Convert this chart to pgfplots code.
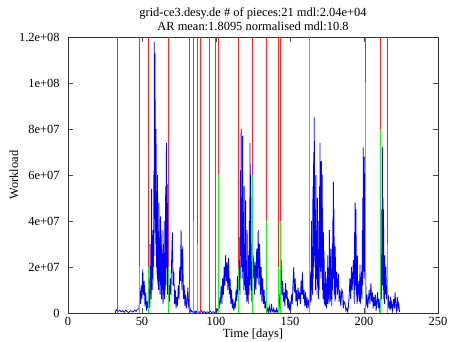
\documentclass[border=0pt]{standalone}
\usepackage{pgfplots}
\pgfplotsset{compat=1.18}
\usepackage{fontspec}
\setmainfont{Liberation Serif}
\definecolor{gpred}{RGB}{255,40,40}
\definecolor{gpgreen}{RGB}{40,235,40}
\definecolor{gpblue}{RGB}{0,0,255}
\pgfplotstableread{
x y
32 0
32.5 1.5
33 1
34 0.8
35 1.2
36 0.5
37 1
38 0.3
39 1.2
40 0.6
41 0.2
42 1
43 0.8
44 0.4
45 1.3
46 0.7
47 1.5
48 2
48.5 10
49 4
49.5 12
50 6
50.5 19
51 8
51.5 14
52 3
52.5 9
53 1
53.5 5
54 2
54.5 15
54.8 4
55 8
55.3 2
55.5 30
55.8 10
56 12
56.3 6
56.5 54
56.8 15
57 25
57.3 10
57.5 36
57.8 20
58 60
58.15 25
58.3 118
58.55 45
58.8 113
59 35
59.2 75
59.35 30
59.5 80
59.75 20
60 53
60.25 15
60.5 60
60.75 12
61 35
61.25 10
61.5 48
61.75 14
62 30
62.25 8
62.5 42
62.75 12
63 25
63.25 6
63.5 36
63.75 10
64 18
64.25 4
64.5 30
64.75 8
65 40
65.25 6
65.5 22
65.75 10
66 55
66.25 12
66.5 74
66.75 20
67 40
67.25 8
67.5 56
67.75 10
68 12
68.5 5
69 15
69.5 8
70 22
70.5 35
71 12
71.5 18
72 4
72.5 10
73 2
73.5 7
74 3
74.5 12
75 6
75.5 20
76 14
76.4 36
77 10
77.5 29
78 6
78.5 12
79 3
79.5 8
80 2
80.5 5
81 11
81.5 3
82 1
82.5 2
83 0.5
83.5 1
84 0.5
84.5 0.3
85 1
85.5 0.2
86 0.6
86.5 0.1
87 0.8
87.5 0.2
88 0.5
89 0.3
90 1
91 0.2
92 0.6
93 0.1
94 0.5
95 0.2
96 0.8
97 0.3
98 0.5
99 0.2
100 1
100.5 0.5
101 1.5
101.5 2
102 7
102.5 3
103 5
103.5 12
104 4
104.5 15
105 8
105.5 20
106 12
106.5 25
107 14
107.5 22
108 10
108.5 24
109 8
109.5 15
110 4
110.5 10
111 2
111.5 6
112 1
112.5 4
113 2
113.5 10
114 5
114.5 16
115 8
115.5 33
115.75 10
116 20
116.25 8
116.5 62
116.75 25
117 80
117.25 20
117.5 50
117.75 15
118 77
118.25 18
118.5 40
118.75 10
119 55
119.25 12
119.5 30
119.75 8
120 49
120.25 10
120.5 22
120.75 5
121 36
121.25 6
121.5 12
121.75 4
122 25
122.25 8
122.5 40
122.75 12
123 74
123.25 15
123.5 60
123.75 10
124 20
124.25 5
124.5 30
125 15
125.5 25
126 8
126.5 22
127 10
127.5 28
128 15
128.5 36
129 12
129.5 30
130 8
130.5 20
131 5
131.5 15
132 4
132.5 10
133 2
133.5 5
134 1
134.5 0.5
135 2
135.5 0.5
136 3
136.5 1
137 0.3
137.5 4
138 1
138.5 0.5
139 2
139.5 0.5
140 1
140.5 0.3
141 2
141.5 0.5
142 1
142.5 1
143 6
143.5 12
144 23
144.5 8
145 14
145.5 5
146 9
146.5 3
147 13
147.5 6
148 10
148.5 2
149 6
149.5 1
150 4
150.5 2
151 8
151.5 4
152 12
152.5 20
153 9
153.5 15
154 5
154.5 10
155 3
155.5 11
156 6
156.5 9
157 4
157.5 14
158 8
158.3 18
159 6
159.5 10
160 3
160.5 9
161 2
161.5 7
162 3
162.5 5
163 2
163.5 5
164 18
164.25 5
164.5 40
164.75 10
165 20
165.25 8
165.5 55
165.75 15
166 70
166.2 20
166.4 85
166.7 25
167 45
167.25 10
167.5 60
167.75 15
168 30
168.25 8
168.5 50
168.75 12
169 25
169.25 6
169.5 40
169.75 10
170 55
170.15 20
170.3 74
170.55 18
170.8 50
171 15
171.2 66
171.5 20
171.8 60
172 10
172.2 24
172.4 6
172.6 35
172.8 8
173 27
173.25 4
173.5 12
173.75 3
174 18
174.3 8
174.6 2
175 15
175.25 4
175.5 25
175.75 6
176 14
176.3 4
176.6 36
176.8 8
177 20
177.25 5
177.5 28
177.75 6
178 12
178.25 3
178.5 30
178.75 10
179 42
179.15 15
179.3 57
179.5 20
179.7 45
180 8
180.2 20
180.4 5
180.6 29
180.8 6
181 12
181.5 18
182 8
182.7 17
183.2 5
183.8 10
184.3 3
185 10
185.6 9
186 2
186.5 5
187.2 4
187.8 1
188.5 2
189 0.5
189.5 3
190 8
190.5 15
191 6
191.5 20
192 10
192.8 23
193.2 12
193.4 4
193.6 35
193.8 10
194 48
194.3 12
194.6 45
194.8 8
195 18
195.25 4
195.5 25
195.75 5
196 8
196.5 14
197 5
197.3 21
197.5 4
197.8 10
198.3 18
198.6 6
198.9 36
199.05 12
199.2 50
199.35 15
199.5 72
199.75 20
200 60
200.1 18
200.2 68
200.45 15
200.7 59
201 20
201.5 3
202 8
202.5 2
203 6
203.5 10
204 4
204.7 13
205.2 5
205.7 9
206.2 2
206.7 7
207.2 3
207.7 8
208.2 1
208.7 5
209.2 9
209.7 2
210.2 6
210.7 1
211.2 3
211.7 20
211.85 6
212 45
212.2 15
212.4 72
212.6 12
212.8 50
213 10
213.2 45
213.4 6
213.6 20
213.8 4
214 25
214.4 8
214.8 20
215.2 6
215.6 12
216 3
216.4 8
216.8 2
217.2 5
217.6 1
218 7
218.4 2
218.8 4
219.2 1
219.6 3
220 6
220.5 2
221 9
221.5 3
222 1
222.5 7
223 2
223.5 4
224 0.5
}\workload
\begin{document}
\fontsize{12.5}{14}\selectfont
\begin{tikzpicture}
\begin{axis}[
  at={(0,0)}, anchor=south west,
  scale only axis, width=370bp, height=276bp,
  xmin=0, xmax=250, ymin=0, ymax=120,
  xtick={0,50,100,150,200,250},
  xticklabels={0,50,100,150,200,250},
  ytick={0,20,40,60,80,100,120},
  yticklabels={0,2e+07,4e+07,6e+07,8e+07,1e+08,1.2e+08},
  tick align=inside, major tick length=5bp,
  tick style={black!70, line width=0.5bp},
  axis line style={black!80, line width=0.6bp},
  yticklabel style={xshift=-4bp},
  title={grid-ce3.desy.de \# of pieces:21 mdl:2.04e+04\\AR mean:1.8095 normalised mdl:10.8},
  title style={align=center, at={(axis description cs:0.5,1.042)}, anchor=center, font=\fontsize{12.5}{14}\selectfont},
  xlabel={Time [days]},
  xlabel style={at={(axis description cs:0.5,-0.079)}, anchor=center},
  ylabel={Workload},
  ylabel style={at={(axis description cs:-0.146,0.5)}, anchor=center},
  clip=true,
]
\addplot[gpblue, line width=0.8bp, no marks] table[x=x, y=y] {\workload};
\addplot[gpred, ycomb, line width=0.9bp, no marks] coordinates {
(33.3,120)(48.2,120)(54.3,120)(67.8,120)(81.8,120)(84.7,120)(87.4,120)(89.7,120)(95.5,120)(99.5,120)
(101.6,120)(115.3,120)(124.8,120)(134.0,120)(142.4,120)(143.7,120)(163.0,120)(201.1,120)(211.0,120)(215.7,120)};
\addplot[gpgreen, ycomb, line width=0.9bp, no marks] coordinates {
(48.2,20)(54.3,20)(67.8,20)(84.7,40)(87.4,30)(101.6,60)(115.3,20)(124.8,60)(134.0,40)(142.4,20)
(143.7,40)(163.0,120)(201.1,100)(211.0,80)(215.7,30)};
\end{axis}
\pgfresetboundingbox
\path[use as bounding box] (-68bp,-29bp) rectangle (389bp,313bp);
\end{tikzpicture}
\end{document}
